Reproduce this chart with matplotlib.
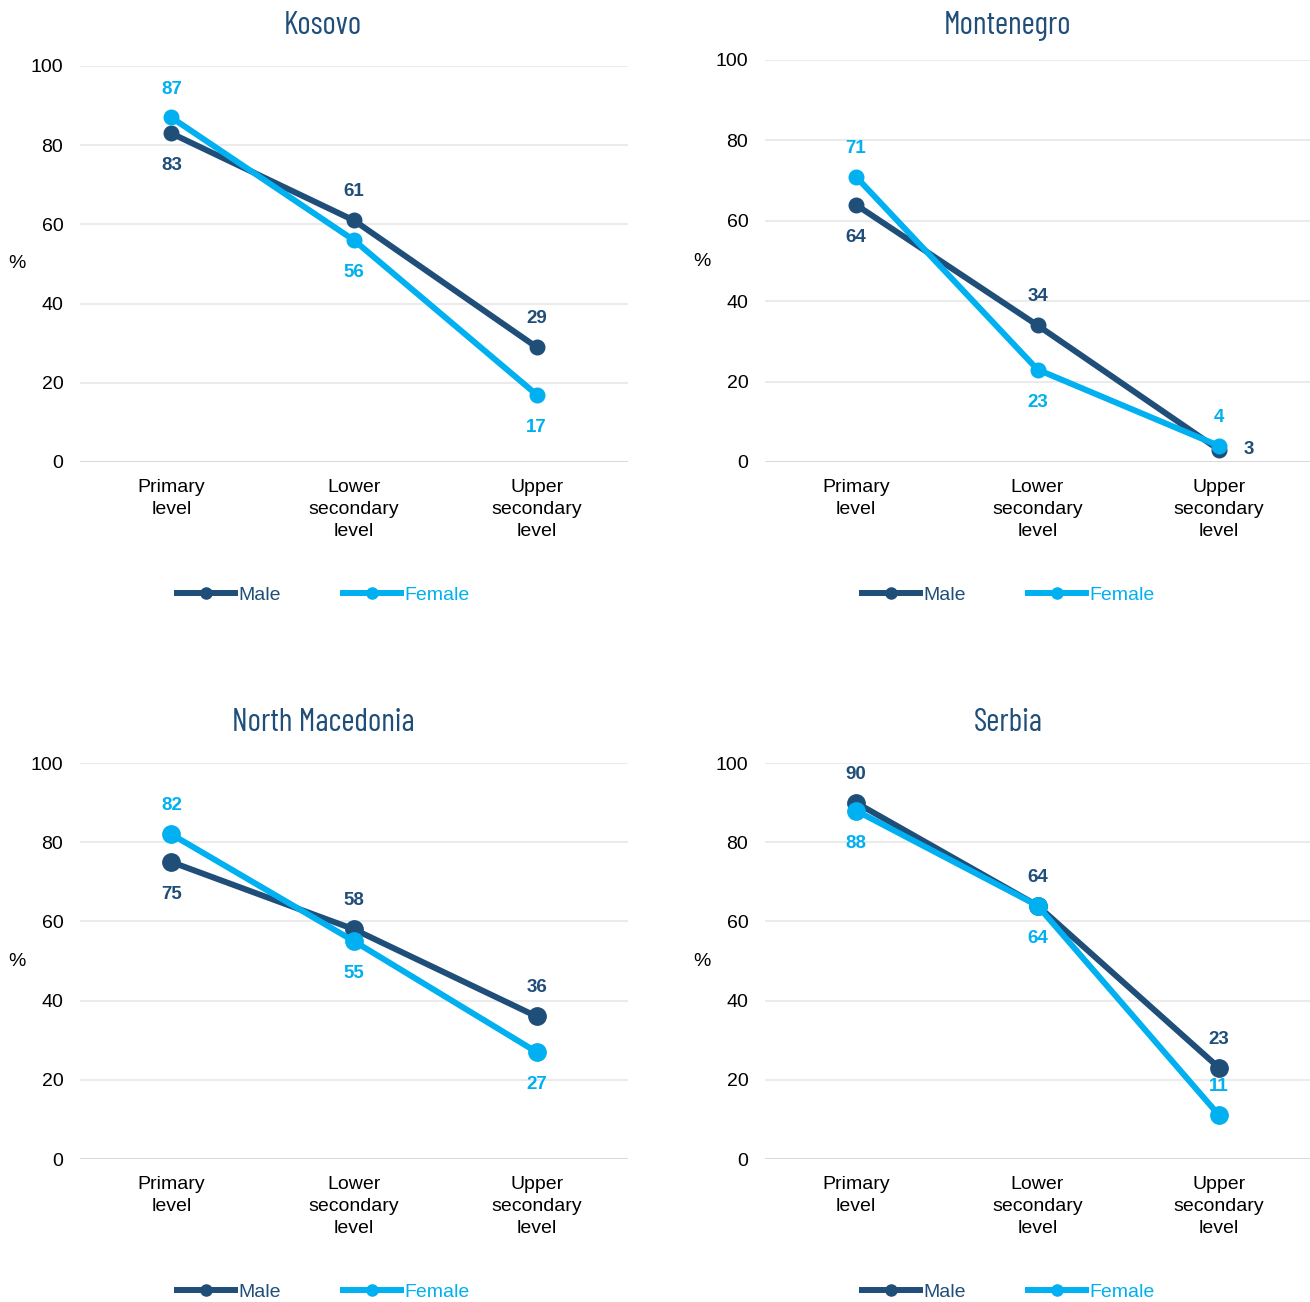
import matplotlib.pyplot as plt
from matplotlib.lines import Line2D

levels = ['Primary\nlevel', 'Lower\nsecondary\nlevel', 'Upper\nsecondary\nlevel']
countries = ['Kosovo', 'Montenegro', 'North Macedonia', 'Serbia']
male = [[83, 61, 29], [64, 34, 3], [75, 58, 36], [90, 64, 23]]
female = [[87, 56, 17], [71, 23, 4], [82, 55, 27], [88, 64, 11]]
# where each value label sits: 'a' above, 'b' below, 'r' right
male_pos = [['b', 'a', 'a'], ['b', 'a', 'r'], ['b', 'a', 'a'], ['a', 'a', 'a']]
female_pos = [['a', 'b', 'b'], ['a', 'b', 'a'], ['a', 'b', 'b'], ['b', 'b', 'a']]

MALE_C = '#1F4E79'
FEMALE_C = '#00B0F0'
plt.rcParams['font.family'] = ['Liberation Sans', 'DejaVu Sans']

fig = plt.figure(figsize=(13.1, 13.02), dpi=100)
W, H = 1310, 1302
boxes = [(80, 66, 548, 396), (765, 60, 545, 402),
         (80, 763, 548, 396), (765, 763, 545, 396)]
title_y = [26, 26, 723, 723]
msizes = [10.5, 10.5, 12.5, 12.5]


def label(ax, x, y, txt, pos, color):
    off = {'a': (0, 20.5), 'b': (0, -23.5), 'r': (21, 0)}[pos]
    ax.annotate(txt, (x, y), xytext=off, textcoords='offset points',
                ha='center', va='center', fontsize=13.5, fontweight='bold',
                color=color)


for i, name in enumerate(countries):
    left, top, w, h = boxes[i]
    ax = fig.add_axes([left / W, 1 - (top + h) / H, w / W, h / H])
    xs = range(len(levels))
    ax.plot(xs, male[i], color=MALE_C, lw=4.3, marker='o', ms=msizes[i],
            solid_capstyle='round', zorder=3)
    ax.plot(xs, female[i], color=FEMALE_C, lw=4.3, marker='o', ms=msizes[i],
            solid_capstyle='round', zorder=4)
    for j in xs:
        label(ax, j, male[i][j], str(male[i][j]), male_pos[i][j], MALE_C)
        label(ax, j, female[i][j], str(female[i][j]), female_pos[i][j], FEMALE_C)

    ax.set_xlim(-0.5, 2.5)
    ax.set_ylim(0, 100)
    ax.set_yticks([0, 20, 40, 60, 80, 100])
    ax.set_xticks(list(xs))
    ax.set_xticklabels(levels, fontsize=14, linespacing=1.4)
    ax.tick_params(axis='both', length=0, labelsize=14)
    ax.tick_params(axis='y', pad=12)
    ax.tick_params(axis='x', pad=12)
    for s in ax.spines.values():
        s.set_visible(False)
    ax.grid(axis='y', color='#EBEBEB', lw=1.5)
    ax.axhline(0, color='#D9D9D9', lw=2, zorder=1)
    ax.set_axisbelow(True)
    ax.set_ylabel('%', rotation=0, fontsize=14, va='center', ha='center')
    ax.yaxis.set_label_coords((17 - 80) / 548, 0.5)

    fig.text((left + 243) / W, 1 - title_y[i] / H, name,
             ha='center', va='center', fontsize=23, color=MALE_C,
             family=['Barlow Condensed', 'DejaVu Sans'])

    handles = [Line2D([], [], color=MALE_C, lw=4.3, marker='o', ms=8),
               Line2D([], [], color=FEMALE_C, lw=4.3, marker='o', ms=8)]
    leg_y = 595 if i < 2 else 1292
    leg_x = (left + 243) / W
    leg = fig.legend(handles, ['Male', 'Female'], loc='center',
                     bbox_to_anchor=(leg_x, 1 - leg_y / H), ncol=2,
                     frameon=False, fontsize=14, handlelength=3.0,
                     handletextpad=0.15, columnspacing=3.2)
    for t, c in zip(leg.get_texts(), [MALE_C, FEMALE_C]):
        t.set_color(c)

fig.savefig('out.png', dpi=100)
